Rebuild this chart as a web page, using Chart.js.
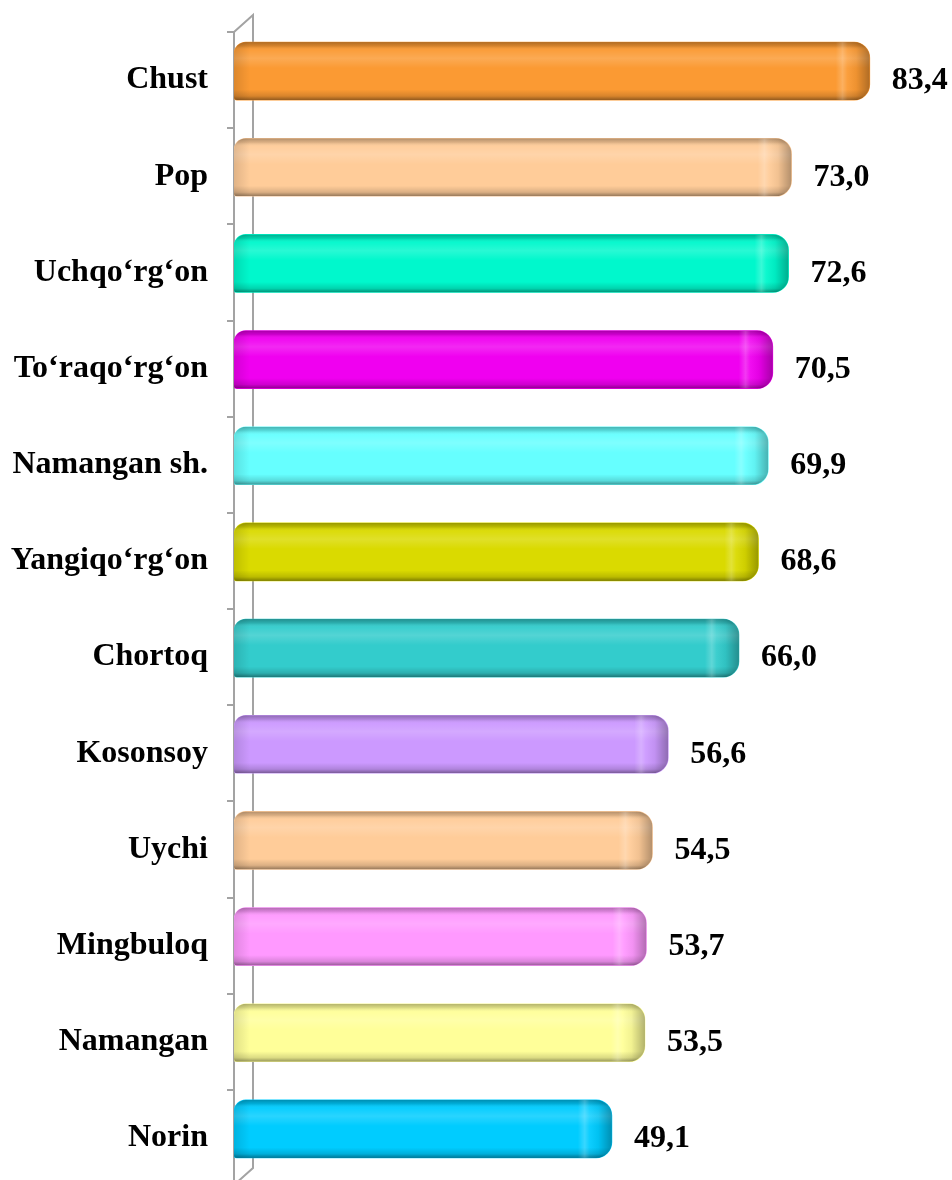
<!DOCTYPE html>
<html>
<head>
<meta charset="utf-8">
<script src="https://cdn.jsdelivr.net/npm/chart.js@4.4.1/dist/chart.umd.min.js"></script>
<style>
  html, body { margin: 0; padding: 0; background: #fff; overflow: hidden; }
  /* plot runs slightly past the bottom edge of the page */
  #wrap { width: 952px; height: 1186px; position: relative; }
</style>
</head>
<body>
<div id="wrap"><canvas id="districtChart"></canvas></div>
<script>
// districts, top to bottom
var districts = ['Chust', 'Pop', 'Uchqo\u2018rg\u2018on', 'To\u2018raqo\u2018rg\u2018on', 'Namangan sh.',
    'Yangiqo\u2018rg\u2018on', 'Chortoq', 'Kosonsoy', 'Uychi', 'Mingbuloq', 'Namangan', 'Norin'];
var values = [83.4, 73.0, 72.6, 70.5, 69.9, 68.6, 66.0, 56.6, 54.5, 53.7, 53.5, 49.1];
var barColors = ['#FB9A33', '#FFCC99', '#00F8CC', '#F000F0', '#66FFFF', '#DADA00',
    '#33CCCC', '#CC99FF', '#FFCC99', '#FF99FF', '#FFFF99', '#00CCFF'];

var LIFT = 9;        // bars sit a little above the band centre (3D depth)
var DEPTH = 19;      // back wall offset
var AXIS_MIN = -1.16; // the front face of the 3D bars starts left of zero

function barPath(ctx, x0, y0, x1, y1) {
    ctx.beginPath();
    ctx.roundRect(x0, y0, x1 - x0, y1 - y0, [12, 16, 16, 3]);
}

// back wall of the 3D axis
var wallPlugin = {
    id: 'wall',
    beforeDatasetsDraw: function (chart) {
        var ctx = chart.ctx, a = chart.chartArea;
        ctx.save();
        ctx.strokeStyle = '#a3a3a3';
        ctx.lineWidth = 2;
        ctx.beginPath();
        ctx.moveTo(a.left, a.top);
        ctx.lineTo(a.left + DEPTH, a.top - 17);
        ctx.lineTo(a.left + DEPTH, a.bottom - 18);
        ctx.lineTo(a.left, a.bottom - 1);
        ctx.stroke();
        ctx.restore();
    }
};

// shading on every bar, plus the value labels
var shadePlugin = {
    id: 'shade',
    beforeDatasetsDraw: function (chart) {
        chart.ctx.save();
        chart.ctx.translate(0, -LIFT);
    },
    afterDatasetsDraw: function (chart) {
        var ctx = chart.ctx;
        var meta = chart.getDatasetMeta(0);
        meta.data.forEach(function (bar) {
            var x0 = bar.base, x1 = bar.x;
            var y0 = bar.y - bar.height / 2, y1 = bar.y + bar.height / 2;
            ctx.save();
            barPath(ctx, x0, y0, x1, y1);
            ctx.clip();

            var g = ctx.createLinearGradient(0, y0, 0, y1);
            g.addColorStop(0, 'rgba(0,0,0,0.30)');
            g.addColorStop(0.07, 'rgba(0,0,0,0.14)');
            g.addColorStop(0.14, 'rgba(255,255,255,0.04)');
            g.addColorStop(0.28, 'rgba(255,255,255,0.16)');
            g.addColorStop(0.45, 'rgba(255,255,255,0)');
            g.addColorStop(0.82, 'rgba(0,0,0,0)');
            g.addColorStop(0.93, 'rgba(0,0,0,0.14)');
            g.addColorStop(1, 'rgba(0,0,0,0.42)');
            ctx.fillStyle = g;
            ctx.fillRect(x0, y0, x1 - x0, y1 - y0);

            // rounded end cap
            var h = ctx.createLinearGradient(x1 - 34, 0, x1, 0);
            h.addColorStop(0, 'rgba(255,255,255,0)');
            h.addColorStop(0.2, 'rgba(255,255,255,0.22)');
            h.addColorStop(0.34, 'rgba(255,255,255,0.05)');
            h.addColorStop(0.6, 'rgba(0,0,0,0.05)');
            h.addColorStop(1, 'rgba(0,0,0,0.30)');
            ctx.fillStyle = h;
            ctx.fillRect(x1 - 34, y0, 34, y1 - y0);

            var v = ctx.createLinearGradient(x0, 0, x0 + 16, 0);
            v.addColorStop(0, 'rgba(0,0,0,0.12)');
            v.addColorStop(1, 'rgba(0,0,0,0)');
            ctx.fillStyle = v;
            ctx.fillRect(x0, y0, 16, y1 - y0);
            ctx.restore();
        });
        ctx.restore();

        ctx.save();
        ctx.fillStyle = '#000';
        ctx.font = 'bold 32px "Liberation Serif"';
        ctx.textAlign = 'left';
        ctx.textBaseline = 'middle';
        meta.data.forEach(function (bar, i) {
            ctx.fillText(values[i].toFixed(1).replace('.', ','), bar.x + 22, bar.y + 1);
        });
        ctx.restore();
    }
};

var ctx = document.getElementById('districtChart').getContext('2d');
var districtChart = new Chart(ctx, {
    type: 'bar',
    data: {
        labels: districts,
        datasets: [{
            data: values,
            base: AXIS_MIN,
            backgroundColor: barColors,
            barThickness: 58,
            borderSkipped: false,
            borderWidth: 0,
            borderRadius: { topLeft: 12, topRight: 16, bottomRight: 16, bottomLeft: 3 }
        }]
    },
    options: {
        indexAxis: 'y',
        responsive: true,
        maintainAspectRatio: false,
        animation: false,
        layout: { padding: { top: 32, right: 1, bottom: 0, left: 0 } },
        scales: {
            x: { display: false, min: AXIS_MIN, max: 94.2 },
            y: {
                grid: { offset: true, drawOnChartArea: false, tickLength: 7, color: '#a3a3a3', lineWidth: 2 },
                border: { color: '#a3a3a3', width: 2 },
                ticks: {
                    color: '#000',
                    padding: 19,
                    font: { family: 'Liberation Serif', size: 32, weight: 'bold' }
                },
                afterFit: function (scale) {
                    scale.width = 234;
                    scale.paddingTop = 0;
                    scale.paddingBottom = 0;
                }
            }
        },
        plugins: {
            legend: { display: false },
            tooltip: { enabled: false }
        }
    },
    plugins: [wallPlugin, shadePlugin]
});
</script>
</body>
</html>
